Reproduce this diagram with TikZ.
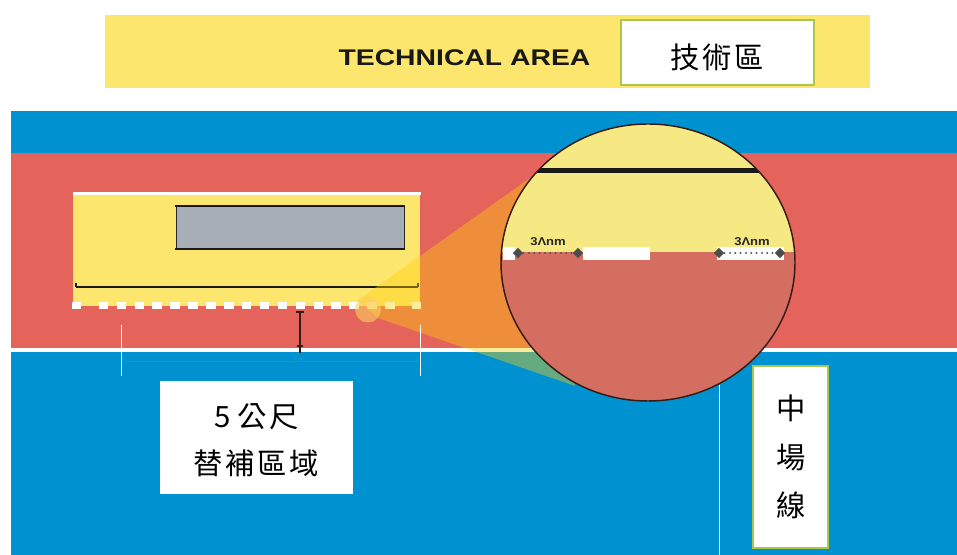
\documentclass[tikz,border=0pt]{standalone}
\usepackage{fontspec}
\setmainfont{Liberation Sans}
\newfontfamily\cjk{Noto Sans CJK TC}
\usetikzlibrary{shapes.geometric}
\definecolor{fieldblue}{HTML}{0092D0}
\definecolor{bandred}{HTML}{E4645C}
\definecolor{areayellow}{HTML}{FCE66E}
\definecolor{panelgray}{HTML}{A8AEB8}
\definecolor{framegreen}{HTML}{A9C84A}
\definecolor{conecol}{RGB}{255,206,8}
\definecolor{lensyellow}{HTML}{F6E882}
\definecolor{lensred}{HTML}{D46E60}
\definecolor{dimred}{HTML}{C0584E}
\definecolor{spotcol}{HTML}{FBD060}
\tikzset{
  x=0.75pt,y=-0.75pt,
  whiterule/.style={draw=white,line width=0.75pt},
  framebox/.style={draw=framegreen,line width=1.9pt,fill=white},
  cjklabel/.style={font=\cjk\fontsize{22}{35}\selectfont,align=center,text=black},
  tinylabel/.style={font=\bfseries\fontsize{8.5}{8.5}\selectfont,xscale=1.15,text=black!85,inner sep=0pt},
  dimarrow/.style={line width=1.7pt,line cap=round,dash pattern=on 0pt off 4pt,draw=black!65},
  diatip/.style={fill=black!70,draw=none,diamond,inner sep=0pt,minimum size=8pt},
}
\newcommand{\ks}{\kern2pt}
\begin{document}
\begin{tikzpicture}
\useasboundingbox (0,0) rectangle (957,555);
\fill[white] (0,0) rectangle (957,555);
% header
\fill[areayellow] (105,15) rectangle (870,88);
\node[font=\bfseries\fontsize{17}{18}\selectfont,xscale=1.25,anchor=center,text=black!90,inner sep=0pt] (techen) at (464.5,57.5) {TECHNICAL AREA};
\draw[framebox] (621,20) rectangle (814,85);
\node[cjklabel] (techzh) at (717,57) {技\ks 術\ks 區};
% pitch
\fill[fieldblue] (11,111) rectangle (957,555);
\fill[bandred] (11,153) rectangle (957,348);
\fill[white] (11,348) rectangle (957,352);
% technical area
\fill[areayellow] (73,193) rectangle (420,306);
\fill[white] (73,192) rectangle (421,195);
\fill[panelgray] (176,206) rectangle (404,249);
\draw[black!85,line width=0.75pt] (176,206) -- (176,249) (404,206) -- (404,249);
\draw[black!90,line width=1.6pt] (175,206) -- (405,206) (175,249) -- (405,249);
\draw[black!90,line width=0.8pt] (76,283) -- (76,287) (418,283) -- (418,287);
\draw[black!90,line width=1.5pt] (76,287.5) -- (418,287.5);
\foreach \dx/\dw in {72/9,98.5/9.5,116.5/9.5,134.5/9.5,152/9.5,170/9.5,188/9.5,206/9.5,224/9.5,241.5/9.5,259.5/9.5,277.5/9.5,295.5/9.5,313.5/9.5,331/9.5,349/9.5,367/9.5,385/9.5,412/9}
  \fill[white] (\dx,302) rectangle ++(\dw,7);
% bench distance mark
\draw[black!75!bandred,line width=0.9pt] (296,312) -- (304,312) (300,312) -- (300,353) (297,346) -- (303,346);
% dim line below
\draw[dimred,line width=0.7pt] (123.5,357) -- (123.5,361) (417.5,357) -- (417.5,361);
\draw[dimred,line width=1.4pt] (123.5,361.5) -- (417.5,361.5);
% cone
\fill[conecol,opacity=.4] (358,300) -- (540,171) -- (575,386) -- (378,318) -- cycle;
\fill[spotcol,opacity=.6] (368,309.5) circle (13);
% white ticks
\draw[whiterule] (121,325) -- (121,376);
\draw[whiterule] (420,325) -- (420,376);
% halfway
\draw[whiterule] (719.5,385) -- (719.5,555);
% lens
\begin{scope}
\clip (648,262.5) ellipse (147 and 138.5);
\fill[lensyellow] (495,120) rectangle (800,252);
\fill[lensred] (495,252) rectangle (800,405);
\fill[black!90] (535,168) rectangle (765,173);
\fill[white] (503,247) rectangle (515,260);
\fill[white] (583,247) rectangle (649.5,260);
\fill[white] (717,247) rectangle (784,260);
\end{scope}
\draw[black!75!lensred,line width=1.1pt] (648,262.5) ellipse (147 and 138.5);
% 3m marks
\node[diatip] (al) at (518,253) {};
\node[diatip] (ar) at (578,253) {};
\draw[dimarrow] (al) -- (ar);
\node[tinylabel] (ltxt) at (548,242) {3Λnm};
\node[diatip] (bl) at (719,253) {};
\node[diatip] (br) at (780,253) {};
\draw[dimarrow] (bl) -- (br);
\node[tinylabel] (rtxt) at (752,242) {3Λnm};
% labels
\fill[white] (160,381) rectangle (353,494);
\node[cjklabel] (sub) at (256.5,440) {5 公\ks 尺\\替\ks 補\ks 區\ks 域};
\draw[framebox] (753,366) rectangle (828,548);
\node[cjklabel] (mid) at (791,457) {中\\[1.4pt]場\\[1.4pt]線};
\end{tikzpicture}
\end{document}
